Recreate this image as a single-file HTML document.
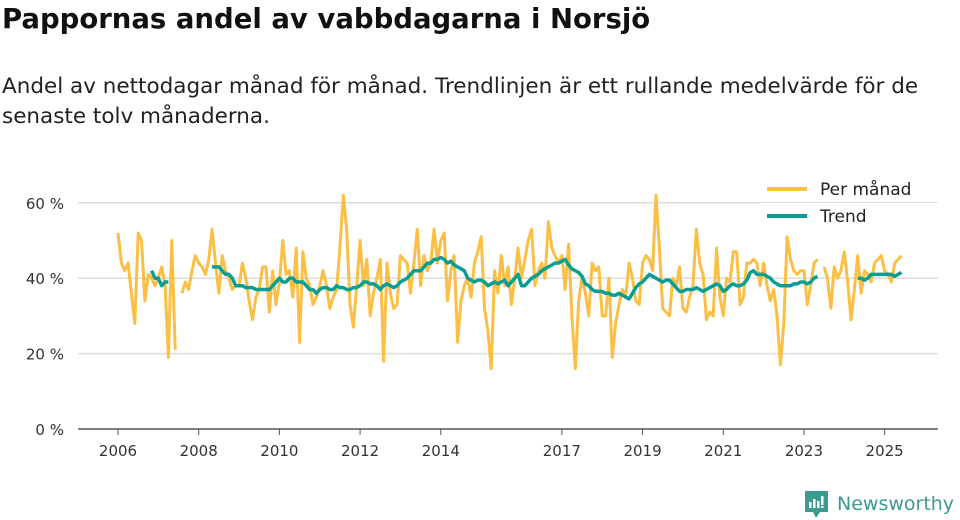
<!DOCTYPE html>
<html><head><meta charset="utf-8"><style>
body{margin:0;width:960px;height:520px;background:#fff;font-family:"Liberation Sans",sans-serif;overflow:hidden;position:relative}
h1{position:absolute;left:2px;top:3px;margin:0;font-family:"DejaVu Sans",sans-serif;font-size:27.5px;font-weight:bold;color:#111}
p{position:absolute;left:2px;top:72px;margin:0;font-family:"DejaVu Sans",sans-serif;font-size:21.5px;line-height:30px;color:#222;width:945px}
svg{position:absolute;left:0;top:0}
</style></head><body>
<h1>Pappornas andel av vabbdagarna i Norsjö</h1>
<p>Andel av nettodagar månad för månad. Trendlinjen är ett rullande medelvärde för de senaste tolv månaderna.</p>
<svg id="chart" width="960" height="520"></svg>
<script>
const startYear = 2006;
const yTicks = [0, 20, 40, 60];
const xTickYears = [2006, 2008, 2010, 2012, 2014, 2017, 2019, 2021, 2023, 2025];
const monthly = [
52,44,42,44,36,28,52,50,34,41,40,38,
40,43,38,19,50,21,null,36,39,37,42,46,
44,43,41,45,53,44,36,46,42,40,37,38,
38,44,40,34,29,35,37,43,43,31,42,33,
39,50,41,42,35,48,23,47,40,38,33,35,
38,42,38,32,35,37,48,62,53,33,27,38,
50,38,45,30,36,40,45,18,44,36,32,33,
46,45,44,36,44,53,38,46,42,44,53,44,
50,52,34,42,46,23,34,38,40,35,44,47,
51,32,26,16,42,36,46,38,43,33,40,48,
40,45,50,53,38,42,44,40,55,48,46,44,
46,37,49,30,16,34,40,36,30,44,42,43,
30,30,40,19,28,33,37,35,44,40,34,33,
44,46,45,42,62,48,32,31,30,40,38,43,
32,31,35,38,53,44,41,29,31,30,48,35,
30,40,39,47,47,33,35,44,44,45,44,38,
44,38,34,37,30,17,28,51,45,42,41,42,
42,33,38,44,45,null,43,40,32,43,40,42,
47,39,29,37,46,36,42,41,39,44,45,46,
42,41,39,44,45,46];
const trend = [
null,null,null,null,null,null,null,null,null,null,42,40,
40,38,39,39,null,null,null,null,null,null,null,null,
null,null,null,null,43,43,43,42,41,41,40,38,
38,38,37.5,37.5,37.5,37,37,37,37,37,38,39,
40,39,39,40,40,39,39,39,38,37,37,36,
37,37.5,37.5,37,37,38,37.5,37.5,37,37,37.5,37.5,
38,39,39,38.5,38.5,38,37,38,38.5,38,37.5,38,
39,39.5,40,41,42,42,42,43,44,44,45,45,
45.5,45,44,44.5,43.5,43,42.5,42,40,39.5,39,39.5,
39.5,39,38,38.5,39,38.5,39,39.5,38,39,40,41,
38,38,39,40,40.5,41,42,42.5,43,43.5,44,44,
44.5,45,43.5,42.5,42,41.5,40.5,38.5,38,37,36.5,36.5,
36.5,36,36,35.5,35.5,36,35.5,35,34.5,36,37.5,38.5,
39,40,41,40.5,40,39.5,39,39.5,39.5,38.5,37.5,36.5,
36.5,37,37,37,37.5,37,36.5,37,37.5,38,38.5,38,
36.5,37,38,38.5,38,38,38.5,39.5,41.5,42,41,41,
41,40.5,40,39,38.5,38,38,38,38,38.5,38.5,39,
39,38.5,39,40,40.5,null,null,null,null,null,null,null,
null,null,null,null,40,40,39.5,40,41,41,41,41,
41,41,41,40.5,41,41.5];
const NS='http://www.w3.org/2000/svg';
const svg=document.getElementById('chart');
const xL=78,xR=938;
function xs(t){return 118+(t-startYear)*40.35;}
function ys(v){return 429-v*3.77;}
function mk(tag,attrs,parent){const e=document.createElementNS(NS,tag);for(const k in attrs)e.setAttribute(k,attrs[k]);(parent||svg).appendChild(e);return e;}
yTicks.forEach(v=>{
  const l=mk('line',{x1:xL,x2:xR,y1:ys(v),y2:ys(v),stroke:v===0?'#555':'#ddd','stroke-width':1.5});
  
  
  const t=mk('text',{x:64,y:ys(v)+6,'text-anchor':'end','font-size':15,fill:'#333','font-family':'DejaVu Sans, sans-serif'});
  t.textContent=v+' %';
  
  
});
xTickYears.forEach(yr=>{
  const x=xs(yr);
  const tk=mk('line',{x1:x,x2:x,y1:429,y2:435,stroke:'#555','stroke-width':1});
  
  
  const t=mk('text',{x:x,y:456,'text-anchor':'middle','font-size':15,fill:'#333','font-family':'DejaVu Sans, sans-serif'});
  t.textContent=yr;
  
  
});
function path(arr){let d='',pen=false;arr.forEach((v,i)=>{if(v===null){pen=false;return;}const x=xs(startYear+i/12).toFixed(1),y=ys(v).toFixed(1);d+=(pen?'L':'M')+x+' '+y;pen=true;});return d;}
const p1=mk('path',{d:path(monthly),fill:'none',stroke:'#fcbf45','stroke-width':3,'stroke-linejoin':'round'});


const p2=mk('path',{d:path(trend),fill:'none',stroke:'#0a9e93','stroke-width':3.5,'stroke-linejoin':'round'});


[['Per månad','#fcbf45',189],['Trend','#0a9e93',216]].forEach(([lab,c,y])=>{
  const g=mk('g',{});
  
  
  mk('rect',{x:760,y:y-13,width:180,height:26,fill:'#fff'},g);
  mk('line',{x1:767,x2:807,y1:y,y2:y,stroke:c,'stroke-width':4},g);
  const t=mk('text',{x:820,y:y+6,'font-size':17,fill:'#222','font-family':'DejaVu Sans, sans-serif'},g);t.textContent=lab;
});
</script>
<svg width="960" height="520" style="pointer-events:none">
<path d="M805 491h23v21h-8l-4 6-3-6h-8z" fill="#3d9a91"/>
<rect x="809" y="502" width="2.5" height="6" fill="#fff"/><rect x="813" y="499" width="2.5" height="9" fill="#fff"/><rect x="817" y="501" width="2.5" height="7" fill="#fff"/><rect x="821" y="496" width="2.5" height="9" fill="#fff"/><rect x="821" y="506" width="2.5" height="2" fill="#fff"/>
<text x="837" y="510" font-size="19" fill="#3d9a91" font-family="DejaVu Sans, sans-serif">Newsworthy</text>
</svg>
</body></html>
